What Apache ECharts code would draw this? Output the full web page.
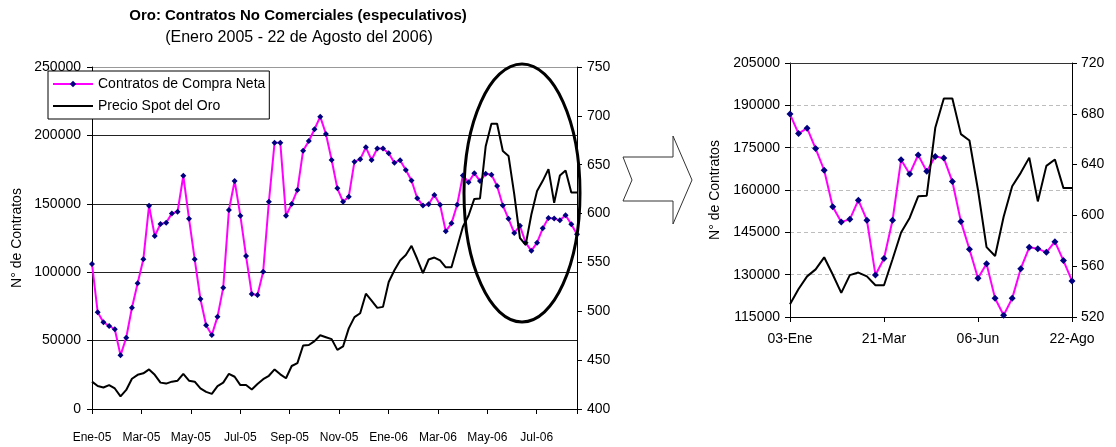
<!DOCTYPE html>
<html><head><meta charset="utf-8">
<script src="https://cdn.jsdelivr.net/npm/echarts@6/dist/echarts.min.js"></script>
<style>html,body{margin:0;padding:0;background:#fff}#c{width:1116px;height:447px}</style>
</head><body><div id="c"></div>
<script>
// ---- DATA ----
// Weekly net long non-commercial contracts, 04-Ene-2005 .. 27-Dic-2005 (52 weeks)
const contracts2005 = [106000, 70700, 63400, 60700, 58300, 39200, 52100, 74000, 91900, 109400,
  148600, 126500, 135200, 136200, 143000, 144200, 170500, 139100, 109400, 80400,
  61200, 54100, 67500, 88700, 145500, 166700, 141300, 111800, 84100, 83300,
  100400, 151500, 194700, 194700, 141300, 149900, 160100, 188800, 195900, 204500,
  213700, 201000, 182000, 161300, 151500, 155200, 180800, 182500, 191300, 182000,
  190500, 190500];
// 03-Ene-2006 .. 22-Ago-2006 (34 weeks)
const contracts2006 = [186900, 180000, 181900, 174700, 167000, 154100, 148700, 149600, 156400, 149300,
  129900, 135700, 149300, 170700, 165700, 172400, 166600, 171900, 171300, 163000,
  148800, 139000, 128700, 133900, 121600, 115600, 121600, 132100, 139700, 139200,
  137900, 141700, 135000, 127800];
// Gold spot price (US$/oz), same weeks
const price2005 = [428, 423.5, 422, 424.5, 421, 413, 419.5, 431, 435, 436.5,
  440.5, 435, 427, 426, 428, 429, 436, 429, 428, 421,
  417.5, 415.5, 423.5, 427, 436, 433, 424.5, 424.5, 420, 425.5,
  430.5, 434, 440.5, 435.5, 431.5, 444, 447, 465, 465.5, 469.5,
  475.5, 473.5, 471.5, 460.5, 464, 482.5, 494, 498, 518, 511,
  503.5, 504.5];
const price2006 = [530, 542, 552, 557.5, 567, 553.5, 539, 553, 555, 552,
  545, 545, 565.5, 586.5, 598, 615, 615.5, 669, 692, 692,
  664, 659, 620, 575, 568, 599, 623, 633.5, 645.5, 611,
  639, 644, 621.5, 621.5];
const monthLabels = ['Ene-05', 'Mar-05', 'May-05', 'Jul-05', 'Sep-05', 'Nov-05', 'Ene-06', 'Mar-06', 'May-06', 'Jul-06'];
const weekLabels2006 = ['03-Ene', '10-Ene', '17-Ene', '24-Ene', '31-Ene', '07-Feb', '14-Feb', '21-Feb', '28-Feb',
  '07-Mar', '14-Mar', '21-Mar', '28-Mar', '04-Abr', '11-Abr', '18-Abr', '25-Abr', '02-May', '09-May', '16-May',
  '23-May', '30-May', '06-Jun', '13-Jun', '20-Jun', '27-Jun', '04-Jul', '11-Jul', '18-Jul', '25-Jul',
  '01-Ago', '08-Ago', '15-Ago', '22-Ago'];
const nameContracts = 'Contratos de Compra Neta';
const namePrice = 'Precio Spot del Oro';

// ---- CHART ----
const contractsAll = contracts2005.concat(contracts2006);
const priceAll = price2005.concat(price2006);
const WEEKS_PER_LABEL = 8.66;
const FONT = "'Liberation Sans', Arial, sans-serif";
const MAGENTA = '#FF00FF', NAVY = '#000080';
const plain = v => String(v);

const chart = echarts.init(document.getElementById('c'), null, {renderer: 'canvas'});

const axisBase = {
  axisLine: {show: true, lineStyle: {color: '#000', width: 1}},
  axisTick: {show: true, length: 5, lineStyle: {color: '#000'}},
  axisLabel: {color: '#000', fontSize: 14, fontFamily: FONT}
};

chart.setOption({
  animation: false,
  backgroundColor: '#fff',
  textStyle: {fontFamily: FONT, color: '#000'},
  title: [
    {text: 'Oro: Contratos No Comerciales (especulativos)', left: 298, top: 8, padding: 0, textAlign: 'center',
     textStyle: {fontSize: 15, fontWeight: 'bold', color: '#000', fontFamily: FONT}},
    {text: '(Enero 2005 - 22 de Agosto del 2006)', left: 299, top: 30, padding: 0, textAlign: 'center',
     textStyle: {fontSize: 16, fontWeight: 'normal', color: '#000', fontFamily: FONT}}
  ],
  legend: {
    orient: 'vertical', left: 48, top: 71, padding: [6, 4, 6, 4], itemGap: 8,
    itemWidth: 40, itemHeight: 8, backgroundColor: '#fff', borderColor: '#000', borderWidth: 1,
    textStyle: {fontSize: 14, color: '#000', fontFamily: FONT},
    data: [nameContracts, {name: namePrice, icon: 'path://M0,0L40,0L40,2L0,2Z'}]
  },
  grid: [
    {left: 92, top: 67, width: 485, height: 342},
    {left: 790, top: 63, width: 282, height: 254}
  ],
  xAxis: [
    Object.assign({}, axisBase, {
      type: 'value', gridIndex: 0, min: 0, max: contractsAll.length - 1, interval: WEEKS_PER_LABEL,
      splitLine: {show: false},
      axisLabel: {color: '#000', fontSize: 12, fontFamily: FONT, margin: 23, showMaxLabel: true,
        formatter: function (v) {
          const k = Math.round(v / WEEKS_PER_LABEL);
          if (Math.abs(v - k * WEEKS_PER_LABEL) < 0.05 && k < monthLabels.length) return monthLabels[k];
          return '';
        }}
    }),
    Object.assign({}, axisBase, {
      type: 'category', gridIndex: 1, data: weekLabels2006, boundaryGap: false,
      axisTick: {show: true, length: 5, interval: 10, lineStyle: {color: '#000'}},
      axisLabel: {color: '#000', fontSize: 14, fontFamily: FONT, margin: 15, interval: 10},
      splitLine: {show: false}
    }),
    {
      type: 'category', gridIndex: 1, position: 'top', data: weekLabels2006, boundaryGap: false,
      axisLine: {show: true, lineStyle: {color: '#333', width: 1}},
      axisTick: {show: false}, axisLabel: {show: false}, splitLine: {show: false}
    }
  ],
  yAxis: [
    Object.assign({}, axisBase, {
      type: 'value', gridIndex: 0, position: 'left', min: 0, max: 250000, interval: 50000,
      axisLabel: {color: '#000', fontSize: 14, fontFamily: FONT, margin: 11, formatter: plain},
      splitLine: {show: true, lineStyle: {color: ['#000', '#222', '#222', '#222', '#222', '#999'], width: 1}},
      name: 'N° de Contratos', nameLocation: 'middle', nameGap: 68,
      nameTextStyle: {fontSize: 14, color: '#000', fontFamily: FONT}
    }),
    Object.assign({}, axisBase, {
      type: 'value', gridIndex: 0, position: 'right', min: 400, max: 750, interval: 50,
      axisLabel: {color: '#000', fontSize: 14, fontFamily: FONT, margin: 10, formatter: plain},
      splitLine: {show: false}
    }),
    Object.assign({}, axisBase, {
      type: 'value', gridIndex: 1, position: 'left', min: 115000, max: 205000, interval: 15000,
      axisLabel: {color: '#000', fontSize: 14, fontFamily: FONT, margin: 10, formatter: plain},
      splitLine: {show: true, lineStyle: {color: '#bdbdbd', type: [4, 3], width: 1}},
      name: 'N° de Contratos', nameLocation: 'middle', nameGap: 68,
      nameTextStyle: {fontSize: 14, color: '#000', fontFamily: FONT}
    }),
    Object.assign({}, axisBase, {
      type: 'value', gridIndex: 1, position: 'right', min: 520, max: 720, interval: 40,
      axisLabel: {color: '#000', fontSize: 14, fontFamily: FONT, margin: 9, formatter: plain},
      splitLine: {show: false}
    })
  ],
  series: [
    {name: nameContracts, type: 'line', xAxisIndex: 0, yAxisIndex: 0,
     data: contractsAll.map((v, i) => [i, v]),
     symbol: 'diamond', symbolSize: 6, showAllSymbol: true,
     itemStyle: {color: NAVY}, lineStyle: {color: MAGENTA, width: 2}, z: 3},
    {name: namePrice, type: 'line', xAxisIndex: 0, yAxisIndex: 1,
     data: priceAll.map((v, i) => [i, v]),
     symbol: 'none', itemStyle: {color: '#000'}, lineStyle: {color: '#000', width: 2}, z: 4},
    {name: nameContracts, type: 'line', xAxisIndex: 1, yAxisIndex: 2,
     data: contracts2006, symbol: 'diamond', symbolSize: 7, showAllSymbol: true,
     itemStyle: {color: NAVY}, lineStyle: {color: MAGENTA, width: 2}, z: 3},
    {name: namePrice, type: 'line', xAxisIndex: 1, yAxisIndex: 3,
     data: price2006, symbol: 'none', itemStyle: {color: '#000'}, lineStyle: {color: '#000', width: 2}, z: 4}
  ],
  graphic: [
    {type: 'ellipse', shape: {cx: 522, cy: 193, rx: 58, ry: 129}, silent: true, z: 100,
     style: {fill: 'none', stroke: '#000', lineWidth: 3}},
    {type: 'polygon', silent: true, z: 100,
     shape: {points: [[623, 157], [673, 157], [673, 136], [692, 180], [673, 224], [673, 201], [623, 201], [632, 180]]},
     style: {fill: '#fff', stroke: '#333', lineWidth: 1}}
  ]
});
</script>
</body></html>
